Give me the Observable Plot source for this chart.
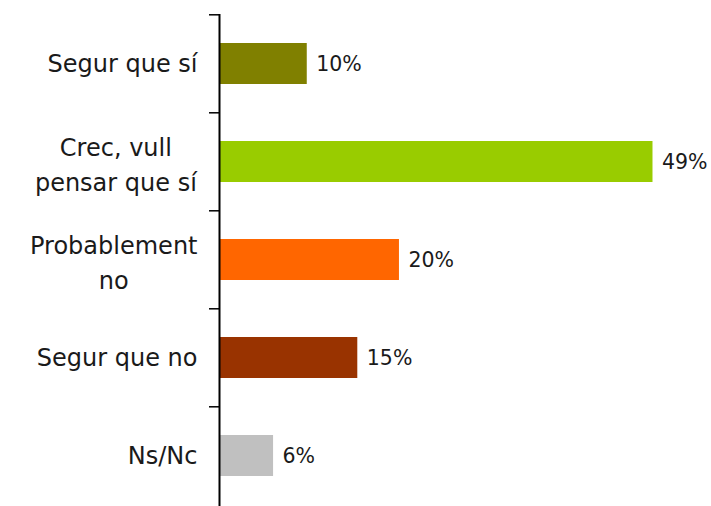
<!DOCTYPE html>
<html>
<head>
<meta charset="utf-8">
<script src="https://cdn.jsdelivr.net/npm/d3@7"></script>
<script src="https://cdn.jsdelivr.net/npm/@observablehq/plot@0.6"></script>
<style>
  html, body { margin: 0; padding: 0; background: #fff; }
  #chart { width: 711px; height: 506px; }
</style>
</head>
<body>
<div id="chart"></div>
<script>
const categories = ["Segur que sí", "Crec, vull pensar que sí", "Probablement no", "Segur que no", "Ns/Nc"];
const tickLabels = ["Segur que sí", "Crec, vull\npensar que sí", "Probablement\nno", "Segur que no", "Ns/Nc"];
const values = [9.9, 48.9, 20.3, 15.6, 6.1];
const valueLabels = ["10%", "49%", "20%", "15%", "6%"];
const colors = ["#808000", "#99CC00", "#FF6600", "#993300", "#C0C0C0"];

const data = categories.map((c, i) => ({cat: c, value: values[i], label: valueLabels[i], color: colors[i]}));
const labelOf = new Map(categories.map((c, i) => [c, tickLabels[i]]));
const singleCats = categories.filter((c, i) => !tickLabels[i].includes("\n"));
const multiCats = categories.filter((c, i) => tickLabels[i].includes("\n"));

const W = 711, H = 506, mTop = 14, mBottom = 0;
const step = (H - mTop - mBottom) / categories.length;
const font = "'DejaVu Sans', sans-serif";

const chart = Plot.plot({
  width: W,
  height: H,
  marginLeft: 219,
  marginRight: 0,
  marginTop: mTop,
  marginBottom: mBottom,
  style: {fontFamily: font, color: "#1a1a1a", background: "#fff"},
  x: {domain: [0, 55.5], axis: null},
  y: {domain: categories, paddingInner: 0.58, paddingOuter: 0.29, label: null},
  marks: [
    Plot.barX(data, {y: "cat", x: "value", fill: "color"}),
    Plot.text(data, {y: "cat", x: "value", text: "label", textAnchor: "start", dx: 9, fontSize: 20.5, fill: "#1a1a1a"}),
    Plot.axisY({tickSize: 10, text: null, dy: -step / 2, strokeWidth: 1.5, stroke: "#000"}),
    Plot.axisY(singleCats, {tickSize: 0, tickPadding: 22, fontSize: 24, fill: "#1a1a1a", label: null}),
    Plot.axisY(multiCats, {tickSize: 0, tickPadding: 22, tickFormat: d => labelOf.get(d), fontSize: 24, lineHeight: 1.45, dy: 0, fill: "#1a1a1a", label: null}),
    Plot.ruleX([0], {stroke: "#000", strokeWidth: 2})
  ]
});
document.getElementById("chart").appendChild(chart);

// center multi-line tick labels relative to their widest line (right edge kept)
chart.querySelectorAll("text").forEach(t => {
  const spans = t.querySelectorAll("tspan");
  if (spans.length > 1) {
    const w = t.getBBox().width;
    t.setAttribute("text-anchor", "middle");
    spans.forEach(s => s.setAttribute("x", -w / 2 + (+s.getAttribute("x") || 0)));
  }
});
</script>
</body>
</html>
